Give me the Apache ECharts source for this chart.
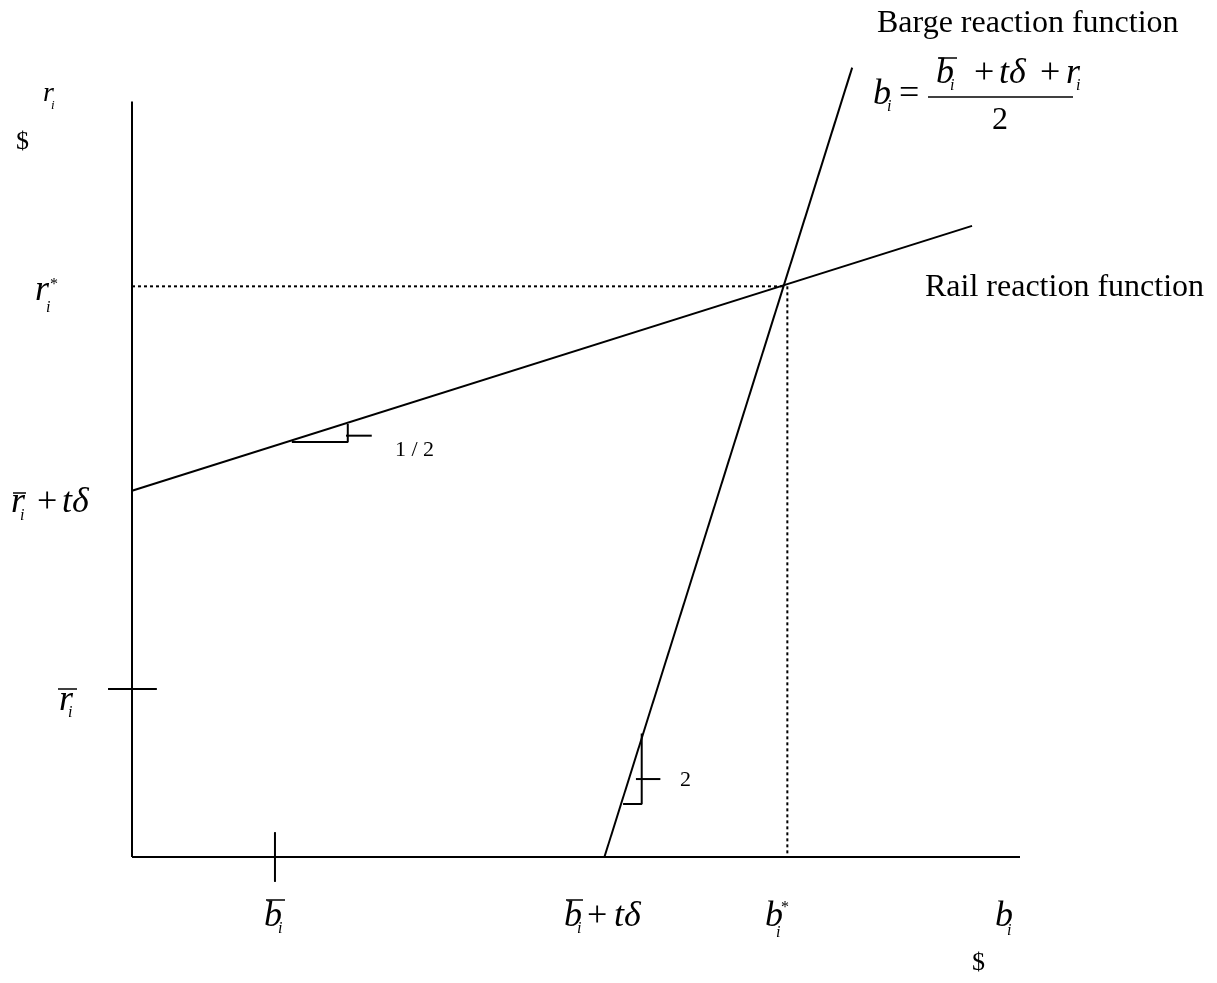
<!DOCTYPE html>
<html>
<head>
<meta charset="utf-8">
<style>
  html, body { margin: 0; padding: 0; background: #fff; }
  #chart { width: 1217px; height: 983px; }
</style>
<script src="https://cdn.jsdelivr.net/npm/echarts@6/dist/echarts.min.js"></script>
</head>
<body>
<div id="chart"></div>
<script>
// data units: b on x, r on y (axes cross at 0,0)
const xAxisSeg = [[0, 0], [100, 0]]
const yAxisSeg = [[0, 0], [0, 85]]
const railLine = [[0, 41.2], [94.6, 71.0]]      // r_i = r̄ + tδ + b/2
const bargeLine = [[53.2, 0], [81.1, 88.8]]     // b_i = (b̄ + tδ + r)/2
const bStar = 73.8
const rStar = 64.2
const bBarTick = [[16.1, -2.8], [16.1, 2.8]]
const rBarTick = [[-2.7, 18.9], [2.8, 18.9]]
const railSlope = [[18.0, 46.7], [24.3, 46.7], [24.3, 48.7]]
const railSlopeTick = [[24.1, 47.4], [27.0, 47.4]]
const bargeSlope = [[55.3, 5.96], [57.4, 5.96], [57.4, 13.9]]
const bargeSlopeTick = [[56.75, 8.77], [59.5, 8.77]]

const FONT = '"Liberation Serif", "Times New Roman", serif'

// labels: x, baseline y, text, size, italic
const labels = [
    [43, 102, 'r', 28, true], [51, 109, 'i', 13, true],
    [16, 150, '$', 26, false],
    [35, 301, 'r', 36, true], [50, 290, '*', 16, false], [46, 313, 'i', 16, true],
    [11, 513, 'r', 36, true], [20, 521, 'i', 16, true], [37, 513, '+', 36, false], [62, 513, 'tδ', 36, true],
    [59, 711, 'r', 36, true], [68, 718, 'i', 16, true],
    [264, 927, 'b', 36, true], [278, 934, 'i', 16, true],
    [564, 927, 'b', 36, true], [577, 934, 'i', 16, true], [587, 927, '+', 36, false], [614, 927, 'tδ', 36, true],
    [765, 927, 'b', 36, true], [781, 913, '*', 16, false], [776, 938, 'i', 16, true],
    [995, 927, 'b', 36, true], [1007, 936, 'i', 16, true],
    [972, 971, '$', 26, false],
    [877, 33, 'Barge reaction function', 32, false],
    [925, 297, 'Rail reaction function', 32, false],
    [873, 105, 'b', 36, true], [887, 112, 'i', 16, true], [899, 105, '=', 36, false],
    [936, 84, 'b', 36, true], [950, 91, 'i', 16, true], [974, 84, '+', 36, false],
    [999, 84, 'tδ', 36, true], [1040, 84, '+', 36, false], [1066, 84, 'r', 36, true], [1076, 91, 'i', 16, true],
    [992, 130, '2', 32, false],
    [395, 457, '1 / 2', 22, false],
    [680, 787, '2', 22, false]
]
// overbars and fraction rule (pixel decorations of the text)
const rules = [
    [13, 493, 26, 493], [58, 689, 77, 689], [266, 900, 285, 900], [566, 900, 583, 900],
    [938, 58, 957, 58], [928, 97, 1073, 97]
]

const chart = echarts.init(document.getElementById('chart'))

function seg(data, dashed) {
    return {
        type: 'line',
        data: data,
        symbol: 'none',
        clip: false,
        silent: true,
        animation: false,
        lineStyle: { color: '#000', width: 2, type: dashed ? [3, 3] : 'solid' }
    }
}

const graphics = labels.map(function (l) {
    return {
        type: 'text',
        silent: true,
        style: {
            x: l[0],
            y: l[1] - 0.3 * l[3],
            text: l[2],
            font: (l[4] ? 'italic ' : '') + l[3] + 'px ' + FONT,
            fill: '#000',
            textAlign: 'left',
            textVerticalAlign: 'middle'
        }
    }
}).concat(rules.map(function (r) {
    return {
        type: 'line',
        silent: true,
        shape: { x1: r[0], y1: r[1], x2: r[2], y2: r[3] },
        style: { stroke: '#000', lineWidth: 1.5 }
    }
}))

// axes cross at 132,857; 8.88 px per x unit, 8.889 px per y unit
chart.setOption({
    backgroundColor: '#fff',
    grid: { left: 43.2, right: 197, top: 57, bottom: 37.1 },
    xAxis: { type: 'value', min: -10, max: 100, show: false },
    yAxis: { type: 'value', min: -10, max: 90, show: false },
    series: [
        seg(xAxisSeg), seg(yAxisSeg),
        seg(railLine), seg(bargeLine),
        seg([[0, rStar], [bStar - 0.4, rStar]], true),
        seg([[bStar, rStar], [bStar, 0]], true),
        seg(bBarTick), seg(rBarTick),
        seg(railSlope), seg(railSlopeTick),
        seg(bargeSlope), seg(bargeSlopeTick)
    ],
    graphic: graphics
})
</script>
</body>
</html>
